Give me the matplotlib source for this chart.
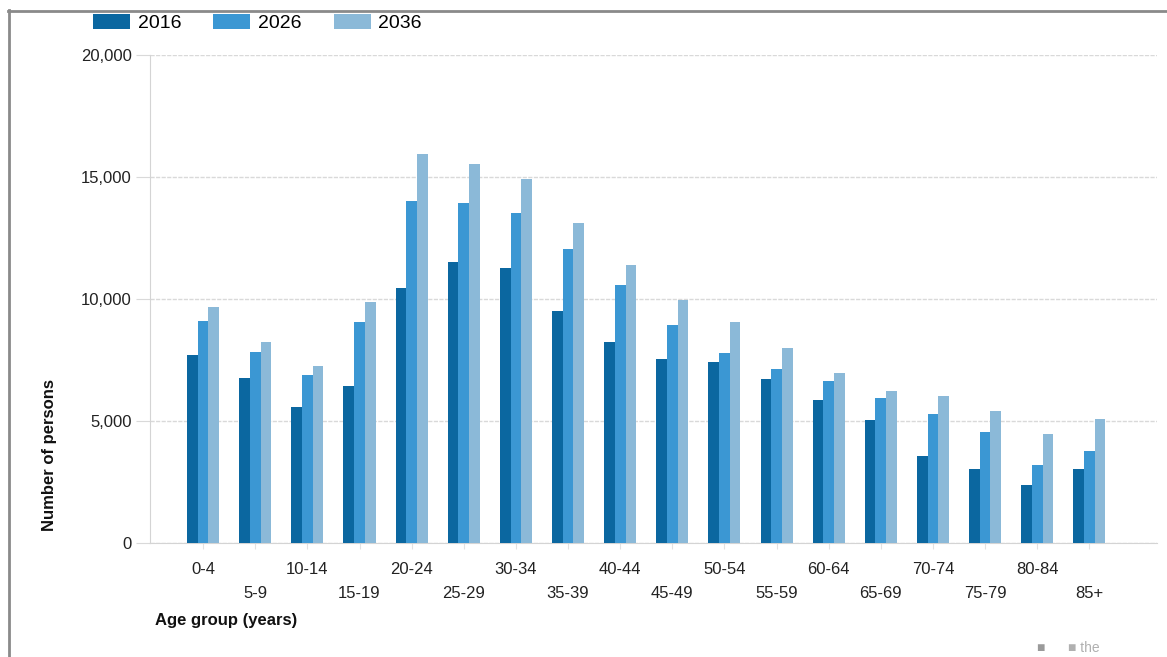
import numpy as np
import matplotlib.pyplot as plt
from matplotlib.patches import Patch

plt.rcParams['font.family'] = ['Liberation Sans', 'DejaVu Sans']

# --- Datos ---
grupos = ['0-4', '5-9', '10-14', '15-19', '20-24', '25-29', '30-34', '35-39', '40-44',
          '45-49', '50-54', '55-59', '60-64', '65-69', '70-74', '75-79', '80-84', '85+']
anios = ['2016', '2026', '2036']
v2016 = [7700, 6760, 5560, 6430, 10450, 11530, 11280, 9490, 8240,
         7530, 7410, 6710, 5860, 5040, 3580, 3020, 2380, 3020]
v2026 = [9110, 7840, 6890, 9040, 14020, 13950, 13510, 12050, 10570,
         8920, 7780, 7140, 6630, 5930, 5300, 4550, 3200, 3780]
v2036 = [9690, 8220, 7270, 9860, 15930, 15530, 14900, 13130, 11410,
         9950, 9060, 7980, 6960, 6240, 6020, 5420, 4470, 5090]
colores = ['#0b67a0', '#3b97d3', '#8bb9d8']

fig = plt.figure(figsize=(11.67, 6.57), dpi=100)
ax = fig.add_axes([0.1285, 0.1735, 0.863, 0.7428])

x = np.arange(len(grupos))
ancho = 0.205
for i, (serie, col) in enumerate(zip([v2016, v2026, v2036], colores)):
    ax.bar(x + (i - 1) * ancho, serie, width=ancho, color=col, linewidth=0, zorder=3)

ax.set_xlim(-1.02, 18.3)
ax.set_ylim(0, 20000)
ax.set_yticks([0, 5000, 10000, 15000, 20000])
ax.set_yticklabels(['0', '5,000', '10,000', '15,000', '20,000'])
ax.grid(axis='y', color='#d9d9d9', linestyle=(0, (3, 1)), linewidth=1, zorder=0)

for lado in ['top', 'right']:
    ax.spines[lado].set_visible(False)
ax.spines['left'].set_color('#d4d4d4')
ax.spines['bottom'].set_color('#d4d4d4')

ax.tick_params(axis='y', length=10, color='#d9d9d9', labelsize=12, labelcolor='#222222', pad=3)
ax.set_xticks(x)
ax.set_xticklabels(grupos)
ax.tick_params(axis='x', length=4, color='#e2e2e2', labelsize=12, labelcolor='#222222')
for k, t in enumerate(ax.xaxis.get_major_ticks()):
    t.set_pad(10 if k % 2 == 0 else 27)

fig.text(0.133, 0.056, 'Age group (years)', fontsize=12, fontweight='bold',
         ha='left', va='center', color='#111111')
fig.text(0.042, 1 - 455 / 657, 'Number of persons', fontsize=12, fontweight='bold',
         rotation=90, ha='center', va='center', color='#111111')

# leyenda
handles = [Patch(facecolor=c, edgecolor='none') for c in colores]
fig.legend(handles, anios, loc='center left', bbox_to_anchor=(93 / 1167, 1 - 23 / 657),
           ncol=3, frameon=False, fontsize=14, handlelength=1.9, handleheight=0.85,
           handletextpad=0.4, columnspacing=1.65, borderpad=0, borderaxespad=0)

# marco
fig.add_artist(plt.Line2D([9 / 1167, 9 / 1167], [0, 1 - 10 / 657],
                          transform=fig.transFigure, color='#8a8a8a', linewidth=2))
fig.add_artist(plt.Line2D([8 / 1167, 1], [1 - 11 / 657, 1 - 11 / 657],
                          transform=fig.transFigure, color='#8a8a8a', linewidth=2))
fig.text(1036 / 1167, 0.003, '\u25a0', fontsize=10, color='#9a9a9a', ha='left', va='bottom')
fig.text(1068 / 1167, 0.003, '\u25a0 the', fontsize=10, color='#b0b0b0', ha='left', va='bottom')

fig.savefig('out.png', dpi=100)
